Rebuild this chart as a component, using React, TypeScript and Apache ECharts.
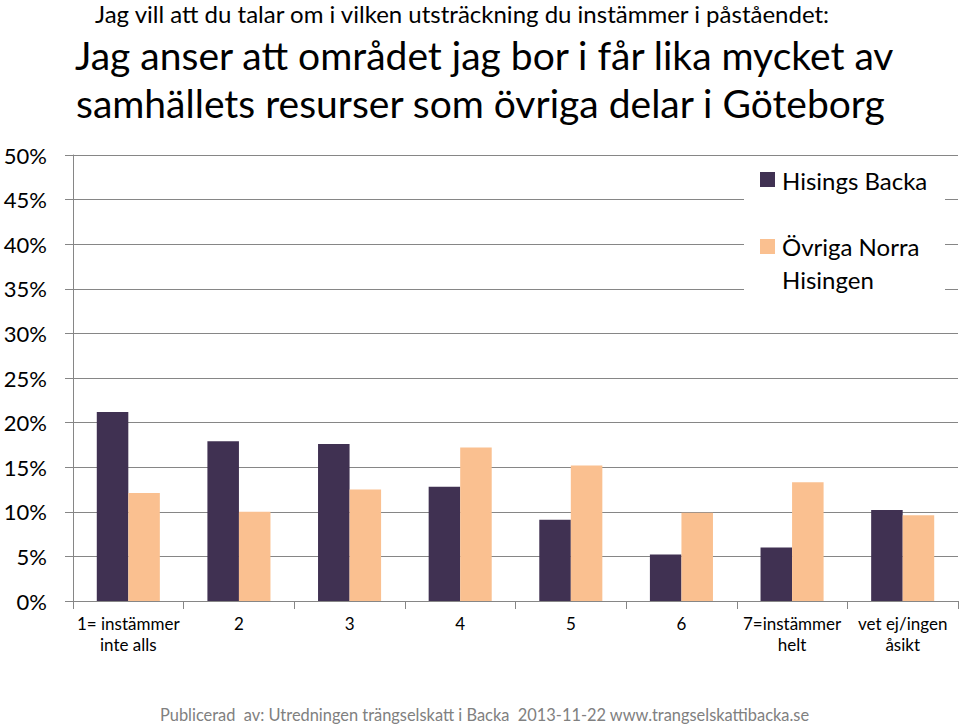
import React, { useEffect, useRef } from "react";
import * as echarts from "echarts";

const categories = [
  "1= instämmer\ninte alls",
  "2",
  "3",
  "4",
  "5",
  "6",
  "7=instämmer\nhelt",
  "vet ej/ingen\nåsikt",
];
const seriesNames = ["Hisings Backa", "Övriga Norra Hisingen"];
const legendLabels = ["Hisings Backa", "Övriga Norra\nHisingen"];
const hisingsBacka = [21.2, 17.9, 17.6, 12.8, 9.1, 5.2, 6.0, 10.2];
const ovrigaNorra = [12.1, 10.0, 12.5, 17.2, 15.2, 9.9, 13.3, 9.6];
const colors = ["#403152", "#FAC090"];
const titleLines = [
  "Jag vill att du talar om i vilken utsträckning du instämmer i påståendet:",
  "Jag anser att området jag bor i får lika mycket av",
  "samhällets resurser som övriga delar i Göteborg",
];
const footer =
  "Publicerad  av: Utredningen trängselskatt i Backa  2013-11-22 www.trangselskattibacka.se";

const FONT = "Lato, 'Open Sans', sans-serif";

export default function App() {
  const ref = useRef<HTMLDivElement>(null);
  useEffect(() => {
    if (!ref.current) return;
    const chart = echarts.init(ref.current, undefined, { renderer: "svg" });
    const grey = "#868686";
    chart.setOption({
      animation: false,
      backgroundColor: "#ffffff",
      textStyle: { fontFamily: FONT },
      grid: { left: 73, right: 2, top: 155, bottom: 126, containLabel: false },
      legend: { show: false },
      xAxis: {
        type: "category",
        data: categories,
        axisLine: { show: true, lineStyle: { color: grey, width: 1 } },
        axisTick: { show: true, length: 8, lineStyle: { color: grey } },
        axisLabel: {
          fontSize: 17,
          lineHeight: 21,
          color: "#000000",
          margin: 12,
          fontFamily: FONT,
          interval: 0,
        },
      },
      yAxis: {
        type: "value",
        min: 0,
        max: 50,
        interval: 5,
        axisLine: { show: true, lineStyle: { color: grey, width: 1 } },
        axisTick: { show: true, length: 8, lineStyle: { color: grey } },
        splitLine: { show: true, lineStyle: { color: grey, width: 1 } },
        axisLabel: {
          formatter: "{value}%",
          fontSize: 22,
          color: "#000000",
          margin: 26,
          fontFamily: FONT,
        },
      },
      series: [
        {
          name: seriesNames[0],
          type: "bar",
          data: hisingsBacka,
          itemStyle: { color: colors[0] },
          barGap: "0%",
          barCategoryGap: "43%",
        },
        {
          name: seriesNames[1],
          type: "bar",
          data: ovrigaNorra,
          itemStyle: { color: colors[1] },
          barGap: "0%",
          barCategoryGap: "43%",
        },
      ],
      graphic: [
        {
          type: "text",
          left: 95,
          top: 1,
          style: { text: titleLines[0], fontSize: 24, fontFamily: FONT, fill: "#000" },
        },
        {
          type: "text",
          left: 75,
          top: 35,
          style: { text: titleLines[1], fontSize: 39, fontFamily: FONT, fill: "#000" },
        },
        {
          type: "text",
          left: 76,
          top: 83,
          style: { text: titleLines[2], fontSize: 39, fontFamily: FONT, fill: "#000" },
        },
        {
          type: "rect",
          z: 10,
          shape: { x: 744, y: 160, width: 201, height: 140 },
          style: { fill: "#ffffff" },
        },
        {
          type: "rect",
          z: 11,
          shape: { x: 760, y: 172, width: 15, height: 15 },
          style: { fill: colors[0] },
        },
        {
          type: "text",
          z: 11,
          x: 782,
          y: 180,
          style: {
            text: legendLabels[0],
            fontSize: 24,
            fontFamily: FONT,
            fill: "#000",
            verticalAlign: "middle",
          },
        },
        {
          type: "rect",
          z: 11,
          shape: { x: 760, y: 239, width: 15, height: 15 },
          style: { fill: colors[1] },
        },
        {
          type: "text",
          z: 11,
          x: 782,
          y: 230,
          style: {
            text: legendLabels[1],
            fontSize: 24,
            lineHeight: 33,
            fontFamily: FONT,
            fill: "#000",
            verticalAlign: "top",
          },
        },
        {
          type: "text",
          left: 160,
          top: 706,
          style: { text: footer, fontSize: 16.4, fontFamily: FONT, fill: "#808080" },
        },
      ],
    });
    return () => chart.dispose();
  }, []);
  return <div ref={ref} style={{ width: 960, height: 727, position: "absolute", left: 0, top: 0 }} />;
}
